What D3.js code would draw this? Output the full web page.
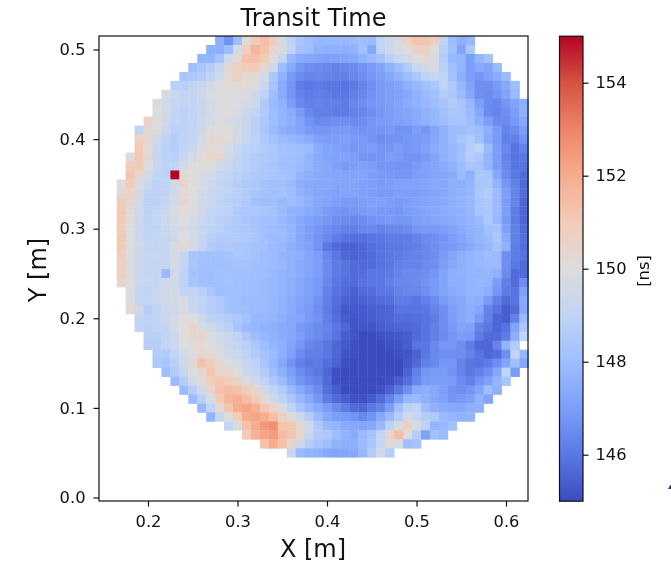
<!DOCTYPE html>
<html><head><meta charset="utf-8">
<script src="https://cdn.jsdelivr.net/npm/d3@7/dist/d3.min.js"></script>
<style>html,body{margin:0;padding:0;background:#fff}svg{display:block;filter:blur(0.45px)}text{font-family:"DejaVu Sans",sans-serif;fill:#111}</style>
</head><body><div id="chart"></div>
<script>
// Grid of the map: first column X, cell pitch and row Y values
const firstX = 0.17;
const cellStep = 0.01;
const rowY = [0.51,0.50,0.49,0.48,0.47,0.46,0.45,0.44,0.43,0.42,0.41,0.40,0.39,0.38,0.37,0.36,0.35,0.34,0.33,0.32,0.31,0.30,0.29,0.28,0.27,0.26,0.25,0.24,0.23,0.22,0.21,0.20,0.19,0.18,0.17,0.16,0.15,0.14,0.13,0.12,0.11,0.10,0.09,0.08,0.07,0.06,0.05];
// Index of the first occupied column in every row
const rowStart = [11,10,9,8,7,6,5,4,4,3,2,2,2,1,1,1,0,0,0,0,0,0,0,0,0,0,0,0,1,1,1,2,2,3,3,4,4,5,6,7,8,9,10,12,14,16,19];
// Transit time in ns, one list per row
const transitTime = [
[147.5,146.7,148,150.2,151,151.4,150.8,149.8,148.9,148.3,148,147.8,147.8,147.8,147.8,147.9,148,147.9,149,149.5,149.8,150.7,151.2,151.2,150.8,149,148,147.5,147.8],
[147.5,147.5,148,149.7,150.8,151.7,151.3,150.5,149.8,149,148.2,148,147.6,147.5,147.5,147.5,147.6,148.1,147.3,149,149.5,149.8,150,150.7,150.8,150,148.8,148.1,147.2,148.4],
[147.7,147.7,148.2,149.5,150.2,151.3,151.4,151,150,149.2,147.8,147.4,147.3,147.2,147.1,147.1,147.2,147.3,147.6,147.9,148.2,148.8,149.3,149.6,150,150.3,149.8,148.7,147.8,147.7,147,147.7,148.2],
[148,148.3,148.7,149.2,150.3,150.7,151,151,150.3,149.4,148,147.4,146.8,146.6,146.5,146.4,146.3,146.4,146.5,146.7,146.9,147.2,147.6,148,148.6,149.3,149.6,149.8,148.8,148.1,147.7,147,147.4,147.2,147.9],
[148.3,148.4,148.6,149,149.5,150.2,150.7,150.3,150.2,149.7,148.4,147.6,146.9,146.5,146.3,146.4,146.3,146.2,146.2,146.4,146.6,146.8,147,147.3,147.6,148,148.4,148.9,149.2,149,148.2,147.5,147,146.8,147.1,147.4,147.9],
[148.8,148.8,149,149.3,149.7,150,150.2,150.3,150.2,150,149.3,148.3,147.4,146.8,146.1,146,146.1,146,146,145.9,146.1,146.3,146.6,146.9,147,147.2,147.5,147.8,148.1,148.4,149,148.5,147.8,147.2,146.6,146.6,146.9,147.3,148],
[149.8,149.4,149,149.1,149.4,149.8,150,150,150,149.8,149.5,148.9,148,147.4,146.8,146.3,146.1,146.2,146.1,146,146,146.2,146.4,146.7,146.9,147,147.1,147.3,147.6,147.9,148.1,148.6,148.4,147.9,147.3,146.6,146.5,146.8,147.2,147.9],
[149.9,149.6,149.1,149,149.1,149.3,149.7,149.9,150,149.9,149.7,149.4,148.5,147.9,147.6,147,146.4,146.2,146.3,146.2,146.2,146.1,146.4,146.6,146.8,146.9,147,147.2,147.4,147.6,147.8,148,148.3,148.6,148.3,147.8,147,146.5,146.4,146.8,147.2,147.5],
[150,149.6,149,148.9,149,149.3,149.6,149.9,150.1,149.8,149.4,149,148.6,148,147.7,147.4,146.9,146.4,146.2,146.2,146.1,146.1,146.3,146.4,146.6,146.8,147,147.1,147.2,147.4,147.6,147.8,148.1,148.4,148.3,147.9,147.3,146.5,146.3,146.6,147,147.6],
[150.6,150,149.5,149,148.9,149,149.4,149.7,149.9,149.8,149.6,149.2,148.8,148.4,148,147.7,147.5,147.2,146.7,146.4,146.5,146.6,146.6,146.5,146.6,146.8,146.9,147,147.1,147.2,147.4,147.6,147.8,148,148.3,148.3,148,147.5,147,146.5,146.5,146.9,147.3],
[149,150.3,149.9,149.3,148.8,148.9,149.1,149.5,149.9,150.1,150.1,149.6,149.2,148.8,148.4,147.9,147.5,147.4,147.2,146.9,146.8,146.8,146.9,146.9,146.8,146.7,146.8,146.8,146.9,146.7,146.7,147,146.8,147.2,147.6,147.9,148,148.2,148,147.5,146.9,146.3,146.5,147],
[150.6,150.3,149.5,148.9,148.7,148.9,149.1,149.7,150.3,150.3,150,149.6,149.2,148.9,148.5,148.2,147.9,147.8,147.6,147.4,147.1,147,147,147.1,146.9,146.9,146.7,146.6,146.7,146.7,146.8,146.9,147,147.3,147.6,147.9,148.3,148.6,148.1,147.4,146.9,146.2,146.2,146.7],
[151,150.2,149.3,148.8,148.7,149,149.3,149.8,150.3,150.2,149.7,149.2,148.9,148.8,148.6,148.4,148.2,148.1,148,147.9,147.4,147.2,147.1,147,146.8,146.9,147,146.8,146.8,147,146.8,146.9,147.1,147.4,147.6,147.8,148.1,148.7,149,147.9,147,146.4,145.9,146.3],
[149.9,151.1,150.3,149.2,148.8,148.8,149.2,149.7,150.2,150.4,150.4,149.6,149.1,148.8,148.6,148.5,148.4,148.2,148.1,148,147.7,147.4,147.2,147.1,147.2,147,146.8,146.7,146.8,147,146.9,146.7,146.7,146.9,147.2,147.5,147.8,148.1,148.7,148.4,147.7,147,146.3,145.9,146],
[150.9,151,150,149.2,148.9,149,149.6,150,150,149.9,149.6,149.3,149,148.8,148.6,148.4,148.3,148.1,148,147.9,147.7,147.4,147.3,147.1,146.9,147,147.1,147,146.8,146.8,146.7,146.7,146.9,147.1,147.2,147.4,147.6,148,148.3,148.2,147.7,147,146.4,145.9,145.9],
[151.2,150.4,149.6,149,148.9,155,150.2,150,149.8,149.6,149.2,149,148.9,148.7,148.5,148.4,148.3,148.2,148.1,147.7,147.5,147.4,147.3,147.2,147.2,147.2,147.2,147,146.9,146.9,146.8,146.8,147,147.1,147.2,147.3,147.4,147.9,147.5,148.4,148.3,147.3,146.5,146,145.7],
[150,151,149.8,149.3,148.9,149,149.6,150.6,150,149.8,149.4,149.1,148.9,148.7,148.5,148.4,148.2,148.1,148.1,147.9,147.5,147.4,147.3,147.3,147.2,147.2,147.2,147.1,147,146.9,147,147.1,147.1,147.1,147.2,147.3,147.3,147.5,147.5,147.7,148.3,148.4,147.7,146.8,146.2,145.7],
[150.3,150.6,149.7,149,148.9,149.1,149.5,150.3,150,149.6,149.3,149.1,149,148.8,148.6,148.4,148.2,148.1,148.2,148,147.6,147.4,147.3,147.2,147.1,147.2,147.2,147.1,147,146.9,146.9,147,147,147,147.1,147.2,147.3,147.5,147.6,147.8,148.4,148.6,147.9,147,146.3,145.7],
[150.9,150.5,149.6,148.8,148.9,149.2,149.6,150.5,150,149.5,149.3,149,148.8,148.7,148.5,148.1,148,148.1,147.8,148,147.8,147.5,147.3,147.2,147,146.9,146.9,147,147.1,147.1,147,146.9,147,147.1,147.2,147.3,147.4,147.5,147.6,147.8,148.3,148.5,147.9,147,146.3,145.6],
[151.1,150.2,149.5,148.8,149.1,149.4,149.8,150.2,149.9,149.5,149.1,149,148.9,148.5,148.4,148.4,148.3,148.2,147.9,147.6,147.5,147.4,147.2,146.9,146.8,146.7,146.8,146.9,147,146.9,146.9,146.8,147,147.1,147.2,147.3,147.4,147.5,147.6,147.8,148.3,148.4,147.9,147,146.1,145.6],
[151,150,149.4,148.9,149.1,149.4,149.7,149.9,149.7,149.4,149,148.8,148.7,148.5,148.3,148.2,148.1,148.1,147.8,147.6,147.3,147.1,147,146.8,146.6,146.5,146.4,146.5,146.7,146.8,146.9,146.8,146.8,147,147.1,147.2,147.3,147.4,147.5,147.7,147.9,148.4,147.8,146.9,146.1,145.6],
[150.9,150,149.3,149,149,149.3,149.6,149.8,149.6,149.3,149,148.8,148.6,148.5,148.4,148.3,148.1,148,147.9,147.7,147.3,147,146.8,146.6,146.4,146.2,146.2,146.4,146.4,146.3,146.4,146.4,146.5,146.8,146.9,146.9,147,147.2,147.4,147.6,147.7,148.1,148.2,147.1,146.2,145.7],
[151.1,150,149.4,149,149.1,149.2,149.5,150,149.7,149.1,148.8,148.6,148.6,148.6,148.5,148.3,148.1,147.9,147.9,147.7,147.3,147,146.7,146.4,146.1,145.9,145.8,145.8,145.9,146,146.1,146.1,146.1,146.3,146.5,146.6,146.8,147,147.2,147.5,147.7,147.9,148.4,147.4,146.2,145.8],
[151,150,149.5,149.1,149.1,149.1,149.8,150.1,149.7,149.1,148.6,148.4,148.5,148.4,148.3,148.2,148.1,147.9,147.8,147.5,147.3,147.1,146.7,146,145.7,145.5,145.5,145.6,145.8,145.9,146,146,146.1,146.2,146.4,146.6,146.8,146.9,147.1,147.4,147.6,147.8,148.2,147.6,146.1,145.8],
[150.8,150,149.3,149.2,149.2,149.2,149.8,149.1,148.3,148.2,148.1,148.1,148.2,148.4,148.3,148.2,148,147.9,147.7,147.6,147.5,147.2,147,146.4,146,145.6,145.5,145.6,145.7,145.9,146,146.1,146.2,146.3,146.4,146.6,146.9,147.2,147.5,147.7,147.8,148,147.9,146.6,146.1,145.9],
[150.7,149.9,149.4,149.2,149.1,149.1,149.7,149,148.3,148.1,148,148,148.1,148.2,148.2,148.1,148,147.9,147.8,147.6,147.4,147.2,147,146.5,146.1,145.9,145.7,145.7,145.7,145.9,146,146.2,146.3,146.3,146.5,146.6,147,147.3,147.5,147.7,147.8,147.9,147.9,146.6,146,145.7],
[150.7,149.9,149.2,149.2,149.2,147.9,149.6,148.9,148.2,148.1,148,148.1,148.1,148.1,148.1,148,148,147.8,147.7,147.6,147.4,147.2,147,146.5,146.1,145.9,145.7,145.8,146,146,146.1,146.3,146.5,146.5,146.6,146.8,147.2,147.5,147.6,147.7,147.7,147.8,147.6,146.5,145.7,145.7],
[150.5,150,149.3,149.3,149.1,149.5,149.5,148.9,148.3,148.1,148,148.1,148.2,148.1,148,148,147.9,147.8,147.7,147.5,147.3,147.1,146.9,146.4,146,145.8,145.7,145.9,146,146,146.2,146.4,146.4,146.5,146.7,146.9,147.2,147.5,147.5,147.7,147.8,147.7,147,146.2,145.7,146.6],
[150,149.1,149,149.3,149.5,149.6,149,149,148.8,148.4,148,148.1,148.1,148,148,147.9,147.8,147.7,147.5,147.3,147.1,146.9,146.3,145.9,145.7,145.5,145.7,145.8,146,146,146.3,146.4,146.4,146.6,146.9,147.2,147.4,147.5,147.7,147.7,147.5,146.8,146.1,145.9,147.1],
[150,149.2,149.1,149.3,149.5,149.7,149.8,149.2,149,148.7,148.5,148.2,148,147.9,147.9,147.9,147.8,147.6,147.4,147.2,147,146.7,146.2,145.8,145.5,145.4,145.5,145.6,145.7,145.8,146.1,146.1,146,146.2,146.5,146.9,147.2,147.3,147.6,147.5,146.9,146.2,145.7,145.9,147.4],
[150.3,149.5,148.7,149,149.3,149.5,149.8,149.3,148.9,148.7,148.5,148.2,148,148,147.9,147.9,147.8,147.6,147.4,147.1,146.9,146.6,146.1,145.7,145.3,145.3,145.3,145.4,145.5,145.6,145.9,145.9,145.9,146,146.3,146.6,147,147.3,147.5,147.3,146.3,145.9,145.4,145.7,147.3],
[149,148.9,149.1,149.3,149.7,150,150,149.5,148.9,148.8,148.6,148.4,148.2,147.8,147.8,147.7,147.5,147.3,147.2,146.9,146.7,146.2,145.8,145.4,145.2,145.3,145.4,145.5,145.6,145.8,145.7,145.8,145.9,146.1,146.6,147,147.3,147.5,146.9,146.2,145.6,145.4,146.2,147.9],
[149,148.8,149,149.1,149.7,150,150.5,149.8,149.5,149.1,148.8,148.3,147.9,147.8,147.6,147.5,147.4,147.3,146.9,146.7,146.5,146.3,146,145.6,145.2,145.2,145.2,145.4,145.5,145.6,145.6,145.7,145.9,146.2,146.6,146.9,147.2,147.1,146.3,146,145.6,145.9,147.2,148.4],
[148.8,148.8,149,149.4,150,150.3,150.5,149.9,149.6,149.3,148.9,148.4,148,147.8,147.6,147.4,147.3,147,146.7,146.5,146.2,145.9,145.4,145.2,145,145,145.1,145.2,145.3,145.4,145.7,145.9,146.2,146.5,146.8,147,146.9,146.1,145.7,145.7,146.1,147.5,149],
[148.7,148.7,149,149.4,150,150.1,150.3,150,149.7,149.4,149.1,148.8,148.4,148,147.7,147.5,147.2,146.8,146.4,146.2,146,145.6,145.3,145.1,145,145,145,145.1,145.2,145.4,145.9,146,146.4,146.8,146.8,146.6,146.1,145.6,145.6,146.3,147.7,148.6],
[148.6,148.5,149,149.7,150,150.5,150.3,149.9,149.5,149.3,148.9,148.6,148.2,147.9,147.5,147.1,146.5,146.2,146.2,146,145.6,145.2,145.1,145,145,145,145,145.1,145.2,145.5,146,146.4,146.6,146.6,146.6,146.3,145.9,145.6,145.8,146.6,149,147.8],
[148.5,148.3,148.8,149.5,150.3,151.3,150.9,150.3,150,149.7,149.2,148.9,148.3,147.8,147.3,146.7,146.2,146,146.1,145.8,145.5,145.1,145,145,145,145,145,145,145.3,145.7,146.2,146.4,146.8,146.8,146.3,146,145.9,146.1,146.6,147.2,148.1,147.3],
[148,148.6,149.2,150,150.4,151.2,150.5,150.4,150,149.3,149.1,148.6,148,147.5,147,146.5,146.2,146,145.6,145.1,145,145,145,145,145,145,145,145.5,146.2,146.8,146.9,146.9,146.7,146.3,146,146.2,146.6,147.3,149,146.9],
[147.9,148.7,149.7,150.2,150.8,151.2,151,150.6,149.9,149.5,149,148.4,147.9,147.3,146.8,146.4,146.2,145.7,145.1,145,145,145,145,145,145.1,145.4,145.8,146.4,146.9,147,147,146.9,146.5,146.2,146.7,147.1,147.7,148.3],
[147.9,148.7,149.6,150.5,151.3,151.5,151.3,151,150.4,149.6,149,148.6,147.9,147.4,146.9,146.5,145.8,145.4,145,145,145,145,145.1,145.5,146,146.6,147.4,147.5,147.3,147,146.7,146.6,146.8,147.2,148,147.6],
[147.9,148.8,149.8,151,151.7,151.9,151.4,151,150.2,149.5,148.9,148.4,147.8,147.3,146.8,146.1,145.7,145.4,145.1,145.1,145.3,145.7,146.3,147,147.8,147.9,147.6,147.3,147.1,146.8,146.9,147.1,147.7,147.2],
[147.8,149,150.3,151.2,152,152.2,151.8,151.1,150.6,149.8,149,148.3,147.8,147.4,146.9,146.5,146.1,145.7,145.6,146,146.3,147,148.1,148.9,149,148,147.6,147.4,147.3,147.3,147.5,147.6],
[147.7,149.2,150,151,152,152.2,152,151.4,150.7,150.2,149.4,148.7,147.9,147.3,147,146.9,146.7,146.4,146.7,147.3,147.9,148.7,149.6,149.2,148.7,148.5,147.9,147.7,147.6,147.7],
[149.1,150,151.3,152,152.5,152.7,151.2,151.1,150.3,149.5,148.5,147.9,147.7,147.4,147.3,147.2,147.3,147.8,148.9,149.8,150.8,149.7,148.9,147.7,147.8,148.1],
[151,151.8,152.2,152.4,151.5,151.2,150.4,149.2,148.6,148.5,148,147.6,147.4,147.9,148.2,149.1,150.5,151.4,150,148.7,147.1,148.1,147.9],
[151.3,152,151.3,150.4,149.4,148.7,148.3,148,147.6,147.5,147.5,147.9,148.3,149.2,150.3,149.7,148,148.2],
[149.3,147.9,147.7,147.6,147.3,147.2,147.2,147.3,147.8,148.6,149.5,148.7]
];
const xTicks = [0.2,0.3,0.4,0.5,0.6];
const yTicks = [0.0,0.1,0.2,0.3,0.4,0.5];
const barTicks = [146,148,150,152,154];
const coolwarmStops = ["#3b4cc0","#5a78e4","#7b9ff9","#9ebeff","#c0d4f5","#dddcdc","#f2cbb7","#f7ac8e","#ee8468","#d65244","#b40426"];
const titleText = "Transit Time", xLabel = "X [m]", yLabel = "Y [m]", barLabel = "[ns]";

const W = 671, H = 564;
const svg = d3.select("#chart").append("svg").attr("width",W).attr("height",H);
const plot = {l:99, r:528, t:36, b:501};
const x = d3.scaleLinear().domain([0.2,0.6]).range([148,506]);
const y = d3.scaleLinear().domain([0,0.5]).range([497.5,49.5]);
const color = d3.scaleLinear().domain(coolwarmStops.map((_,i)=>145+i)).range(coolwarmStops).clamp(true);

// cells
const cells = [];
transitTime.forEach((vals,r)=>vals.forEach((v,c)=>cells.push({x:firstX+(rowStart[r]+c)*cellStep,y:rowY[r],v})));
svg.append("g").selectAll("rect").data(cells).join("rect")
  .attr("x",d=>x(d.x-cellStep/2)).attr("y",d=>y(d.y+cellStep/2))
  .attr("width",d=>x(d.x+cellStep/2)-x(d.x-cellStep/2)+0.4)
  .attr("height",d=>y(d.y-cellStep/2)-y(d.y+cellStep/2)+0.4)
  .attr("fill",d=>color(d.v));

const fontTick = 16.3, fontLabel = 24;
function styleAxis(g,pad){
  g.select(".domain").remove();
  g.selectAll("line").attr("stroke","#111").attr("stroke-width",1.2);
  g.selectAll("text").style("font-size",fontTick+"px");
}
const xa = svg.append("g").attr("transform",`translate(0,${plot.b})`)
  .call(d3.axisBottom(x).tickValues(xTicks).tickFormat(d3.format(".1f")).tickSize(5.5).tickPadding(8.5));
styleAxis(xa);
const ya = svg.append("g").attr("transform",`translate(${plot.l},0)`)
  .call(d3.axisLeft(y).tickValues(yTicks).tickFormat(d3.format(".1f")).tickSize(5.5).tickPadding(8));
styleAxis(ya);
svg.append("rect").attr("x",plot.l).attr("y",plot.t).attr("width",plot.r-plot.l).attr("height",plot.b-plot.t)
  .attr("fill","none").attr("stroke","#111").attr("stroke-width",1.2);

svg.append("text").attr("x",313.5).attr("y",26).attr("text-anchor","middle").style("font-size",fontLabel+"px").text(titleText);
svg.append("text").attr("x",313).attr("y",557).attr("text-anchor","middle").style("font-size",fontLabel+"px").text(xLabel);
svg.append("text").attr("transform","translate(46,270) rotate(-90)").attr("text-anchor","middle").style("font-size",fontLabel+"px").text(yLabel);

// colour bar
const cb = {l:559.5,r:583};
const cy = d3.scaleLinear().domain([145,155]).range([501.2,36.2]);
const grad = svg.append("defs").append("linearGradient").attr("id","cbg").attr("x1",0).attr("x2",0).attr("y1",1).attr("y2",0);
coolwarmStops.forEach((c,i)=>grad.append("stop").attr("offset",i/(coolwarmStops.length-1)).attr("stop-color",c));
svg.append("rect").attr("x",cb.l).attr("y",cy(155)).attr("width",cb.r-cb.l).attr("height",cy(145)-cy(155)).attr("fill","url(#cbg)").attr("stroke","#111").attr("stroke-width",1.2);
const ca = svg.append("g").attr("transform",`translate(${cb.r},0)`)
  .call(d3.axisRight(cy).tickValues(barTicks).tickFormat(d3.format("d")).tickSize(5.5).tickPadding(7));
styleAxis(ca);
svg.append("text").attr("transform","translate(649,271) rotate(-90)").attr("text-anchor","middle").style("font-size","16.3px").text(barLabel);
// small dark fragment at the right edge of the picture
svg.append("path").attr("d","M668,489L670,485.5L671,485L671,489Z").attr("fill","#1f3a6e");
</script></body></html>
